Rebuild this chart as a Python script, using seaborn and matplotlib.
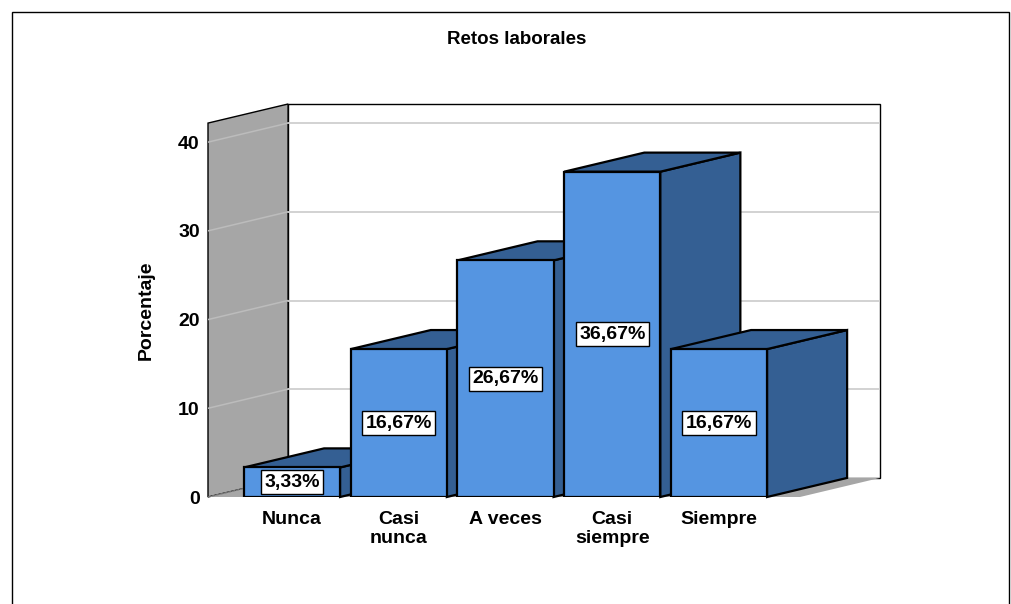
import matplotlib
matplotlib.use('Agg')
import matplotlib.pyplot as plt
import seaborn as sns
from matplotlib.patches import Polygon, Rectangle

categorias = ['Nunca', 'Casi\nnunca', 'A veces', 'Casi\nsiempre', 'Siempre']
porcentajes = [3.33, 16.67, 26.67, 36.67, 16.67]
etiquetas = ['3,33%', '16,67%', '26,67%', '36,67%', '16,67%']
ticks_y = [0, 10, 20, 30, 40]

frente = '#5595e1'
lado = '#345f93'
pared = '#a6a6a6'

# profundidad del efecto 3D (en unidades de datos)
dx, dy = 0.75, 2.15
x_ini, x_fin = -0.787, 5.508
y_max = 42.15

sns.set_style('white')
plt.rcParams['font.family'] = ['Liberation Sans', 'DejaVu Sans']
plt.rcParams['font.weight'] = 'bold'
for k in ['text.color', 'axes.labelcolor', 'xtick.color', 'ytick.color']:
    plt.rcParams[k] = 'black'

fig = plt.figure(figsize=(10.12, 6.04), dpi=100)
ax = fig.add_axes([208 / 1012, 1 - 497 / 604, 672 / 1012, 393 / 604])

sns.barplot(x=categorias, y=porcentajes, width=0.9, color=frente, saturation=1,
            edgecolor='black', linewidth=1.6, ax=ax)

# paredes y suelo
ax.add_patch(Polygon([(x_ini + dx, dy), (x_fin, dy), (x_fin, y_max + dy), (x_ini + dx, y_max + dy)],
                     closed=True, facecolor='white', edgecolor='black', lw=1, zorder=1, clip_on=False))
ax.add_patch(Polygon([(x_ini, 0), (x_ini, y_max), (x_ini + dx, y_max + dy), (x_ini + dx, dy)],
                     closed=True, facecolor=pared, edgecolor='black', lw=1, zorder=1, clip_on=False))
ax.add_patch(Polygon([(x_ini, 0), (x_fin - dx, 0), (x_fin, dy), (x_ini + dx, dy)],
                     closed=True, facecolor=pared, edgecolor='none', lw=0, zorder=1, clip_on=False))
for v in ticks_y[1:]:
    ax.plot([x_ini + dx, x_fin], [v + dy, v + dy], color='#cfcfcf', lw=1.3, zorder=2)
    ax.plot([x_ini, x_ini + dx], [v, v + dy], color='#bcbcbc', lw=1.1, zorder=2)
ax.plot([x_ini, x_ini + dx], [0, dy], color='#777777', lw=1, ls=(0, (2, 1)), zorder=2)

# caras laterales y superiores
for i, (p, txt) in enumerate(zip(ax.patches[:len(categorias)], etiquetas)):
    x0, w, h = p.get_x(), p.get_width(), p.get_height()
    base = 10 + 3 * i
    ax.add_patch(Polygon([(x0 + w, 0), (x0 + w + dx, dy), (x0 + w + dx, h + dy), (x0 + w, h)],
                         closed=True, facecolor=lado, edgecolor='black', lw=1.6, zorder=base, clip_on=False))
    ax.add_patch(Polygon([(x0, h), (x0 + dx, h + dy), (x0 + w + dx, h + dy), (x0 + w, h)],
                         closed=True, facecolor=lado, edgecolor='black', lw=1.6, zorder=base, clip_on=False))
    p.set_zorder(base + 1)
    ax.text(x0 + w / 2, h / 2, txt, ha='center', va='center', fontsize=14, fontweight='bold',
            zorder=base + 2,
            bbox=dict(boxstyle='square,pad=0.18', facecolor='white', edgecolor='black', lw=1))

ax.set_xlim(x_ini, x_fin)
ax.set_ylim(0, y_max + dy)
ax.set_yticks(ticks_y)
ax.tick_params(axis='both', length=0, labelsize=14)
ax.tick_params(axis='y', pad=6)
ax.tick_params(axis='x', pad=10)
for lab in ax.get_xticklabels() + ax.get_yticklabels():
    lab.set_fontweight('bold')
ax.set_xlabel('')
ax.set_ylabel('Porcentaje', fontsize=14, fontweight='bold')
ax.yaxis.set_label_coords(-0.079, 0.476)
for s in ax.spines.values():
    s.set_visible(False)

fig.text(517 / 1012, 1 - 40 / 604, 'Retos laborales', ha='center', va='center',
         fontsize=13.5, fontweight='bold')
fig.add_artist(Rectangle((12 / 1012, -0.05), 997 / 1012, 1.05 - 12 / 604, transform=fig.transFigure,
                         fill=False, edgecolor='black', lw=1))

fig.savefig('out.png', dpi=100)
